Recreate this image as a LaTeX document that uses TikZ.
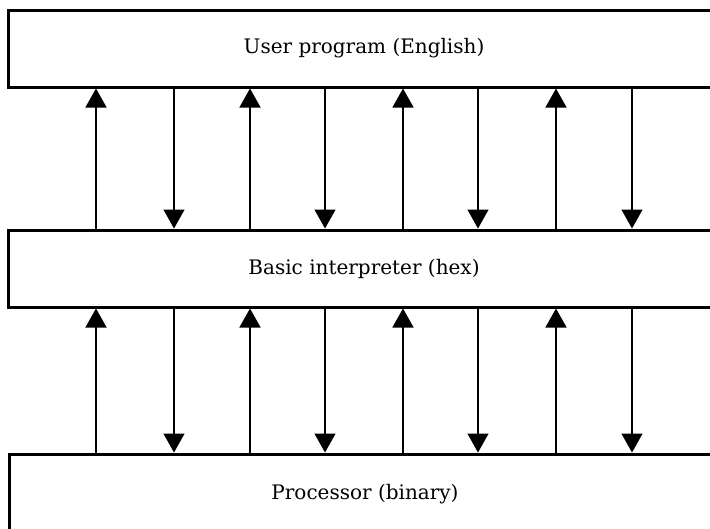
\documentclass[tikz,border=0pt]{standalone}
\usepackage{fontspec}
\setmainfont{DejaVu Serif}
\usetikzlibrary{arrows.meta}
\begin{document}
\begin{tikzpicture}[x=1pt,y=1pt,
  layer/.style={draw, line width=3pt, rectangle, minimum width=712pt, minimum height=77pt, inner sep=0pt, font=\fontsize{20}{24}\selectfont},
  upflow/.style={line width=1.5pt, -{Triangle[width=21pt,length=19pt]}},
  downflow/.style={line width=1.5pt, -{Triangle[width=21pt,length=19pt]}}]
\useasboundingbox (0,0) rectangle (710,-528);
\clip (0,0) rectangle (710,-528);
\node[layer] (top) at (364,-48.5) {User program (English)};
\node[layer] (mid) at (364,-268.5) {Basic interpreter (hex)};
\node[layer, minimum height=80pt] (bot) at (365,-494) {Processor (binary)};
\foreach \u/\d [count=\i] in {96/174, 250/325, 403/478, 556/632} {
  \coordinate (u\i) at (\u,0);
  \coordinate (d\i) at (\d,0);
  \draw[upflow] (mid.north -| u\i) -- (top.south -| u\i);
  \draw[downflow] (top.south -| d\i) -- (mid.north -| d\i);
  \draw[upflow] (bot.north -| u\i) -- (mid.south -| u\i);
  \draw[downflow] (mid.south -| d\i) -- (bot.north -| d\i);
}
\end{tikzpicture}
\end{document}
